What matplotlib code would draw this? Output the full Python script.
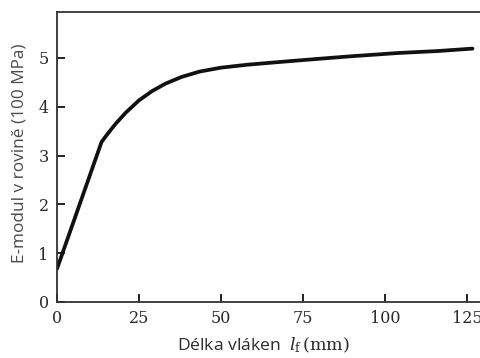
import matplotlib
matplotlib.use("Agg")
import matplotlib.pyplot as plt

# fibre length (mm) vs in-plane E-modulus (100 MPa)
length_mm = [0, 13.6, 15.5, 18.0, 21.0, 25.0, 29.0, 33.0, 38.0, 43.5, 50.0,
             58.0, 65.0, 74.0, 89.0, 104.0, 116.0, 126.7]
modulus = [0.68, 3.28, 3.45, 3.66, 3.88, 4.13, 4.32, 4.47, 4.61, 4.72, 4.80,
           4.86, 4.90, 4.95, 5.03, 5.10, 5.14, 5.19]

x_ticks = [0, 25, 50, 75, 100, 125]
y_ticks = [0, 1, 2, 3, 4, 5]

W, H = 481, 358
plt.rcParams["mathtext.fontset"] = "dejavuserif"
fig = plt.figure(figsize=(W / 100, H / 100), dpi=100)
ax = fig.add_axes([57 / W, (H - 302) / H, 1 - 57 / W, (302 - 12) / H])

ax.plot(length_mm, modulus, color="#111111", lw=2.7, solid_capstyle="round",
        solid_joinstyle="round")

ax.set_xlim(0, 129.3)
ax.set_ylim(0, 5.94)
ax.set_xticks(x_ticks)
ax.set_yticks(y_ticks)
ax.tick_params(direction="in", length=6, width=1.4, color="#222222",
               labelsize=11.5, labelcolor="#2a2a2a", pad=6)
for lab in ax.get_xticklabels() + ax.get_yticklabels():
    lab.set_fontfamily("DejaVu Serif")

for side in ("left", "bottom", "top"):
    ax.spines[side].set_linewidth(1.3)
    ax.spines[side].set_color("#333333")
ax.spines["right"].set_visible(False)

fig.text(20 / W, 1 - 153 / H, "E-modul v rovině (100 MPa)", rotation=90,
         ha="center", va="center", fontsize=12.4, color="#4a4a4a",
         family="Open Sans")

fig.text(263 / W, 1 - 345 / H, r"Délka vláken  $l_{\mathrm{f}}\,\mathrm{(mm)}$",
         ha="center", va="center", fontsize=12.6, color="#2a2a2a",
         family="Open Sans")

fig.savefig("out.png", dpi=100)
